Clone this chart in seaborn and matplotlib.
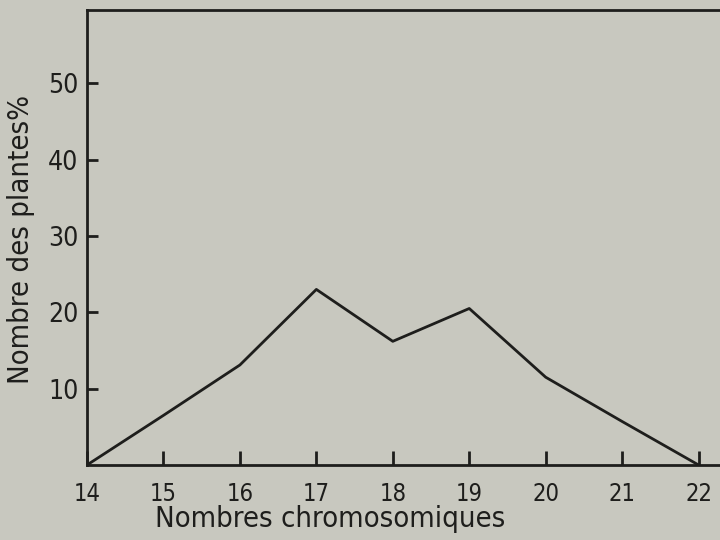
import matplotlib
matplotlib.use("Agg")
import matplotlib.pyplot as plt
import seaborn as sns
import pandas as pd

# values
chromosomes = [14, 15, 16, 17, 18, 19, 20, 21, 22]
plants_pct = [0, 6.5, 13.1, 23.0, 16.2, 20.5, 11.5, 5.7, 0]
x_ticks = [14, 15, 16, 17, 18, 19, 20, 21, 22]
y_ticks = [10, 20, 30, 40, 50]

paper = "#c8c8bf"
ink = "#1e1e1c"

sns.set_theme(style="ticks")
plt.rcParams["font.family"] = ["DejaVu Sans"]
plt.rcParams["font.stretch"] = "condensed"

df = pd.DataFrame({"chromosomes": chromosomes, "pct": plants_pct})

fig = plt.figure(figsize=(7.2, 5.4), dpi=100, facecolor=paper)
ax = fig.add_axes([87 / 720, 75 / 540, 633 / 720, 455 / 540])
ax.set_facecolor(paper)

sns.lineplot(data=df, x="chromosomes", y="pct", ax=ax, color=ink, linewidth=2.0)

ax.set_xlim(14, 22.28)
ax.set_ylim(0, 59.6)
ax.set_xticks(x_ticks)
ax.set_yticks(y_ticks)
ax.tick_params(axis="x", direction="in", length=10, width=2, colors=ink,
               labelsize=17, pad=12)
ax.tick_params(axis="y", direction="in", length=8, width=2, colors=ink,
               labelsize=19, pad=6)

for side in ["left", "bottom", "top"]:
    ax.spines[side].set_color(ink)
    ax.spines[side].set_linewidth(2)
ax.spines["right"].set_visible(False)

ax.set_xlabel("Nombres chromosomiques", fontsize=21, color=ink)
ax.set_ylabel("Nombre des plantes%", fontsize=21, color=ink)
ax.xaxis.set_label_coords(0.384, -0.088)
ax.yaxis.set_label_coords(-0.082, 0.495)

fig.savefig("out.png", dpi=100, facecolor=paper)
